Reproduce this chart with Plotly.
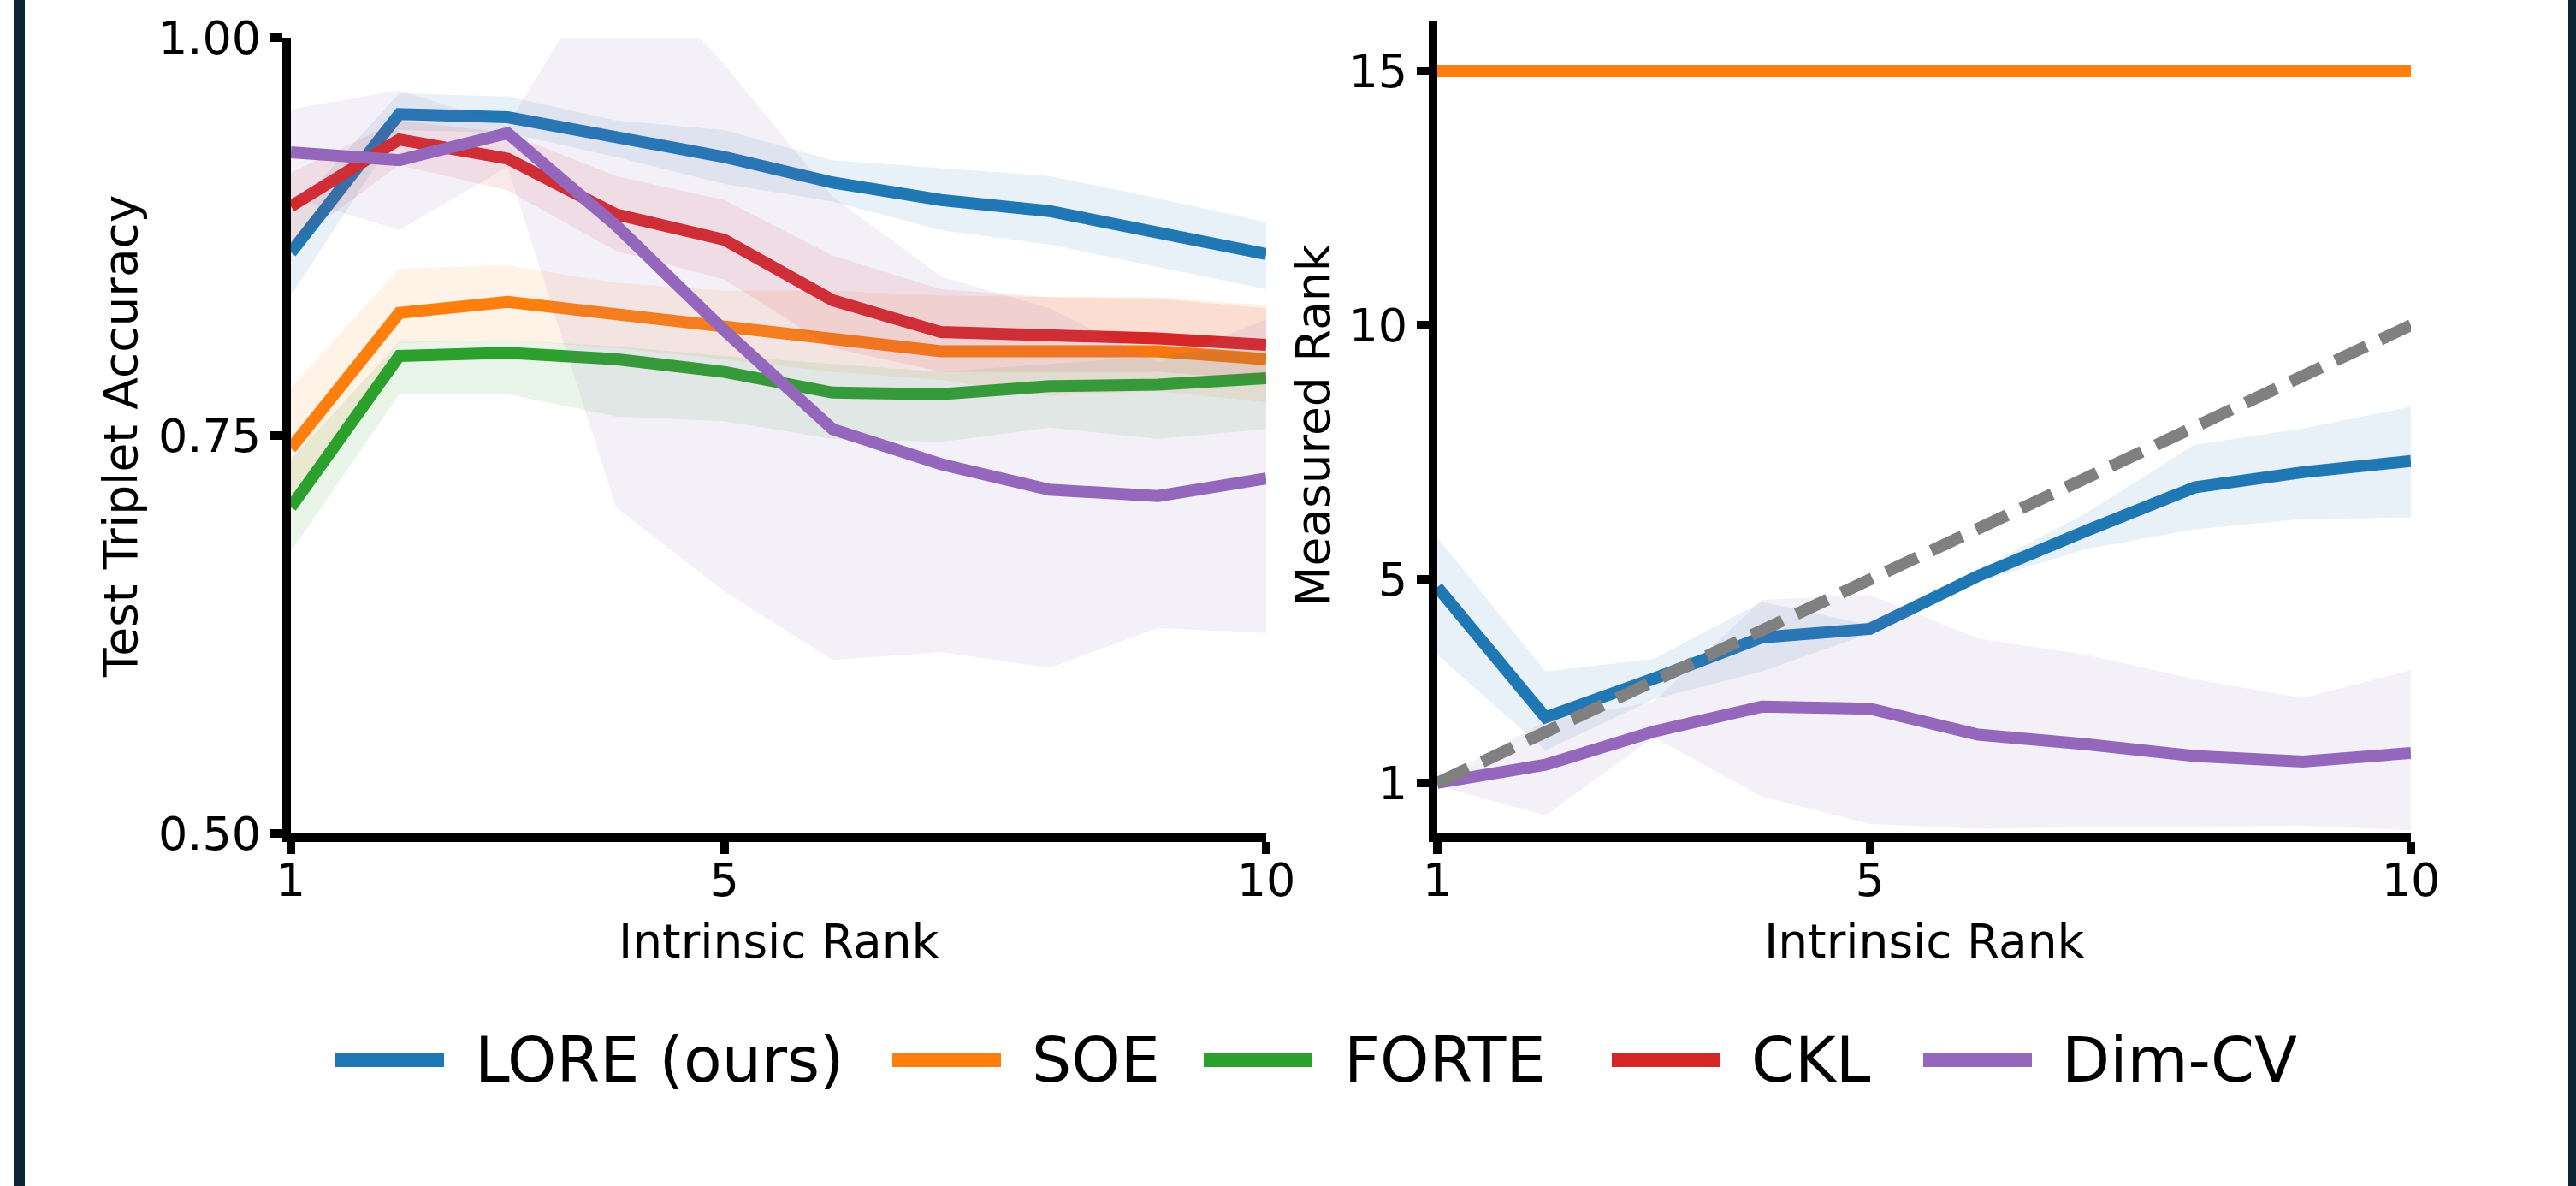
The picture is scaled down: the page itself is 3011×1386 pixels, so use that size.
import plotly.graph_objects as go

# ---------------- data ----------------
ranks = [1, 2, 3, 4, 5, 6, 7, 8, 9, 10]

method_names = ["LORE (ours)", "SOE", "FORTE", "CKL", "Dim-CV"]
method_colors = ["#1f77b4", "#ff7f0e", "#2ca02c", "#d62728", "#9467bd"]

# Left panel: test triplet accuracy (mean, upper, lower)
acc_lore = [0.865, 0.952, 0.950, 0.938, 0.925, 0.909, 0.898, 0.891, 0.878, 0.864]
acc_lore_hi = [0.890, 0.965, 0.963, 0.948, 0.942, 0.923, 0.918, 0.913, 0.899, 0.884]
acc_lore_lo = [0.838, 0.942, 0.940, 0.925, 0.908, 0.897, 0.879, 0.870, 0.856, 0.842]

acc_soe = [0.742, 0.827, 0.834, 0.826, 0.819, 0.810, 0.803, 0.803, 0.803, 0.798]
acc_soe_hi = [0.780, 0.855, 0.857, 0.846, 0.841, 0.841, 0.838, 0.837, 0.837, 0.832]
acc_soe_lo = [0.705, 0.808, 0.810, 0.805, 0.798, 0.790, 0.785, 0.775, 0.778, 0.771]

acc_forte = [0.705, 0.800, 0.802, 0.798, 0.790, 0.777, 0.776, 0.781, 0.782, 0.786]
acc_forte_hi = [0.735, 0.809, 0.810, 0.806, 0.800, 0.795, 0.790, 0.795, 0.800, 0.808]
acc_forte_lo = [0.677, 0.776, 0.776, 0.762, 0.759, 0.748, 0.746, 0.755, 0.748, 0.754]

acc_ckl = [0.894, 0.936, 0.924, 0.889, 0.873, 0.835, 0.815, 0.813, 0.811, 0.807]
acc_ckl_hi = [0.915, 0.948, 0.940, 0.913, 0.898, 0.863, 0.842, 0.837, 0.836, 0.830]
acc_ckl_lo = [0.870, 0.920, 0.904, 0.866, 0.848, 0.805, 0.790, 0.790, 0.790, 0.785]

acc_dimcv = [0.928, 0.923, 0.940, 0.882, 0.816, 0.754, 0.732, 0.716, 0.712, 0.723]
acc_dimcv_hi = [0.955, 0.967, 0.945, 1.057, 0.983, 0.900, 0.850, 0.830, 0.796, 0.823]
acc_dimcv_lo = [0.900, 0.879, 0.919, 0.705, 0.652, 0.609, 0.614, 0.604, 0.629, 0.626]

# Right panel: measured rank
rank_lore = [4.85, 2.29, 3.05, 3.86, 4.03, 5.07, 5.96, 6.81, 7.11, 7.33]
rank_lore_hi = [5.83, 3.19, 3.44, 4.56, 4.11, 5.18, 6.31, 7.65, 7.97, 8.40]
rank_lore_lo = [3.52, 1.64, 2.65, 3.19, 3.94, 4.95, 5.60, 5.99, 6.19, 6.22]

rank_soe = [15, 15, 15, 15, 15, 15, 15, 15, 15, 15]

rank_dimcv = [1.00, 1.36, 2.01, 2.50, 2.46, 1.95, 1.76, 1.53, 1.42, 1.59]
rank_dimcv_hi = [1.05, 2.21, 2.60, 4.60, 4.70, 3.84, 3.52, 3.04, 2.67, 3.22]
rank_dimcv_lo = [0.95, 0.36, 1.90, 0.73, 0.19, 0.10, 0.13, 0.14, 0.16, 0.07]

ideal_rank = [1, 2, 3, 4, 5, 6, 7, 8, 9, 10]

left_yticks = [0.50, 0.75, 1.00]
left_yticktext = ["0.50", "0.75", "1.00"]
right_yticks = [1, 5, 10, 15]
xticks = [1, 5, 10]

# ---------------- figure ----------------
W, H = 3011, 1386
FONT = "DejaVu Sans"
LW = 14


def rgba(hex_color, a):
    h = hex_color.lstrip("#")
    r, g, b = int(h[0:2], 16), int(h[2:4], 16), int(h[4:6], 16)
    return f"rgba({r},{g},{b},{a})"


fig = go.Figure()


def add_band(x, lo, hi, color, xa, ya):
    fig.add_trace(go.Scatter(
        x=list(x) + list(x)[::-1], y=list(hi) + list(lo)[::-1],
        fill="toself", fillcolor=rgba(color, 0.1), line=dict(width=0),
        mode="lines", hoverinfo="skip", showlegend=False, xaxis=xa, yaxis=ya))


def add_line(x, y, color, name, xa, ya, dash=None):
    fig.add_trace(go.Scatter(
        x=x, y=y, mode="lines", name=name,
        line=dict(color=color, width=LW, dash=dash),
        showlegend=False, xaxis=xa, yaxis=ya))


left_series = [
    (acc_lore, acc_lore_lo, acc_lore_hi),
    (acc_soe, acc_soe_lo, acc_soe_hi),
    (acc_forte, acc_forte_lo, acc_forte_hi),
    (acc_ckl, acc_ckl_lo, acc_ckl_hi),
    (acc_dimcv, acc_dimcv_lo, acc_dimcv_hi),
]
for (m, lo, hi), name, col in zip(left_series, method_names, method_colors):
    add_band(ranks, lo, hi, col, "x", "y")
    add_line(ranks, m, col, name, "x", "y")

# right panel
add_band(ranks, rank_lore_lo, rank_lore_hi, method_colors[0], "x2", "y2")
add_line(ranks, rank_lore, method_colors[0], method_names[0], "x2", "y2")
add_line(ranks, rank_soe, method_colors[1], method_names[1], "x2", "y2")
add_band(ranks, rank_dimcv_lo, rank_dimcv_hi, method_colors[4], "x2", "y2")
add_line(ranks, rank_dimcv, method_colors[4], method_names[4], "x2", "y2")
add_line(ranks, ideal_rank, "#808080", "ideal", "x2", "y2", dash="40px,18px")


def px_x(p):
    return p / W


def px_y(p):
    return 1 - p / H


axis_common = dict(
    showline=True, linewidth=10, linecolor="black", mirror=False,
    ticks="outside", ticklen=14, tickwidth=10, tickcolor="black",
    showgrid=False, zeroline=False, automargin=False,
    tickfont=dict(family=FONT, size=54, color="black"),
)
xaxis_extra = dict(ticklabelstandoff=-16)

fig.update_layout(
    width=W, height=H, autosize=False,
    margin=dict(l=0, r=0, t=0, b=0, pad=0, autoexpand=False),
    paper_bgcolor="white", plot_bgcolor="white",
    font=dict(family=FONT, color="black"),
    showlegend=False,
    xaxis=dict(domain=[px_x(340), px_x(1480)], range=[1, 10], tickvals=xticks,
               anchor="y", **axis_common, **xaxis_extra),
    yaxis=dict(domain=[px_y(974), px_y(44)], range=[0.5, 1.0], tickvals=left_yticks,
               ticktext=left_yticktext, anchor="x", **axis_common),
    xaxis2=dict(domain=[px_x(1680), px_x(2818)], range=[1, 10], tickvals=xticks,
                anchor="y2", **axis_common, **xaxis_extra),
    yaxis2=dict(domain=[px_y(974.4), px_y(23.5)], range=[0, 16], tickvals=right_yticks,
                anchor="x2", **axis_common),
)

annotations = [
    dict(text="Test Triplet Accuracy", x=px_x(141), y=px_y(510), textangle=-90,
         font=dict(size=55)),
    dict(text="Measured Rank", x=px_x(1535), y=px_y(497), textangle=-90,
         font=dict(size=55)),
    dict(text="Intrinsic Rank", x=px_x(910), y=px_y(1100), font=dict(size=55)),
    dict(text="Intrinsic Rank", x=px_x(2249), y=px_y(1100), font=dict(size=55)),
]
for a in annotations:
    a.update(xref="paper", yref="paper", showarrow=False, xanchor="center", yanchor="middle")
    a["font"].update(family=FONT, color="black")

# manual legend (line samples + labels)
legend_line_x = [392, 1043, 1407, 1884, 2248]
legend_text_x = [553, 1204, 1569, 2045, 2408]
shapes = []
for name, col, lx, tx in zip(method_names, method_colors, legend_line_x, legend_text_x):
    shapes.append(dict(type="line", xref="paper", yref="paper",
                       x0=px_x(lx), x1=px_x(lx + 127), y0=px_y(1239), y1=px_y(1239),
                       line=dict(color=col, width=16)))
    annotations.append(dict(text=name, x=px_x(tx), y=px_y(1238), xref="paper", yref="paper",
                            showarrow=False, xanchor="left", yanchor="middle",
                            font=dict(family=FONT, size=73, color="black")))

# side frame bars
frame_col = "#0b2535"
shapes.append(dict(type="rect", xref="paper", yref="paper", x0=px_x(16), x1=px_x(29),
                   y0=0, y1=1, fillcolor=frame_col, line=dict(width=0), layer="above"))
shapes.append(dict(type="rect", xref="paper", yref="paper", x0=px_x(3002), x1=1,
                   y0=0, y1=1, fillcolor=frame_col, line=dict(width=0), layer="above"))

fig.update_layout(annotations=annotations, shapes=shapes)

fig.write_html("out.html", config={"displayModeBar": False},
               post_script="document.body.style.margin='0';document.body.style.overflow='hidden';")
